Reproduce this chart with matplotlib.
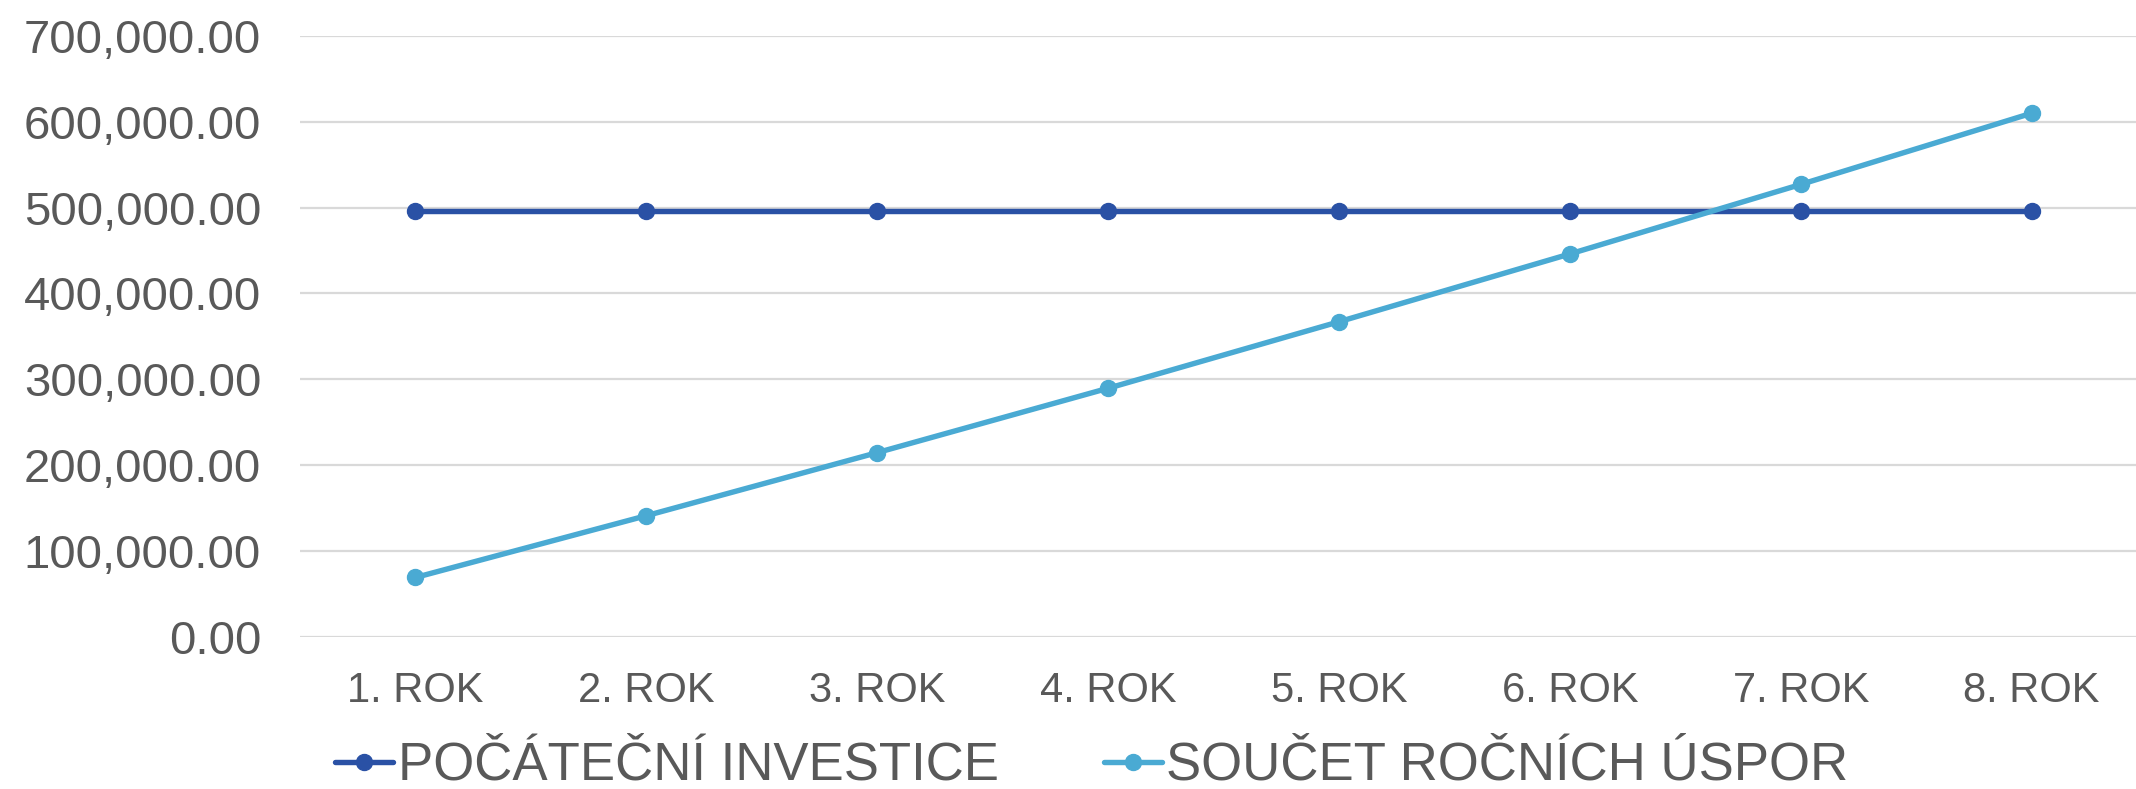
import matplotlib.pyplot as plt
from matplotlib.ticker import FuncFormatter

# data
roky = ['1. ROK', '2. ROK', '3. ROK', '4. ROK', '5. ROK', '6. ROK', '7. ROK', '8. ROK']
investice = [496000, 496000, 496000, 496000, 496000, 496000, 496000, 496000]
uspory = [69000, 141000, 214500, 289500, 367000, 446000, 527000, 610000]

nazvy = ['POČÁTEČNÍ INVESTICE', 'SOUČET ROČNÍCH ÚSPOR']
barvy = ['#2A51A5', '#4AAAD3']
seda = '#595959'

plt.rcParams['font.family'] = ['Liberation Sans', 'DejaVu Sans']

fig = plt.figure(figsize=(21.36, 7.89), dpi=100)
ax = fig.add_axes([300 / 2136, 1 - 636.7 / 789, (2147 - 300) / 2136, (636.7 - 36) / 789])

x = list(range(len(roky)))
for hodnoty, nazev, barva in zip([investice, uspory], nazvy, barvy):
    ax.plot(x, hodnoty, color=barva, linewidth=3.9, marker='o', markersize=11.5,
            label=nazev, solid_capstyle='round', clip_on=False)

ax.set_xlim(-0.5, 7.5)
ax.set_ylim(0, 700000)
ax.set_yticks(range(0, 700001, 100000))
ax.yaxis.set_major_formatter(FuncFormatter(lambda v, p: f'{v:,.2f}'))
ax.set_xticks(x)
ax.set_xticklabels(roky)

ax.grid(axis='y', color='#D9D9D9', linewidth=1.6)
ax.set_axisbelow(True)
for s in ax.spines.values():
    s.set_visible(False)
ax.tick_params(axis='y', length=0, pad=28, labelsize=34, labelcolor=seda)
ax.tick_params(axis='x', length=0, pad=25, labelsize=30, labelcolor=seda)

leg = fig.legend(loc='center', bbox_to_anchor=(1092 / 2136, 1 - 766 / 789), ncol=2,
                 frameon=False, fontsize=38, handlelength=1.1, handletextpad=0.08,
                 columnspacing=2.0, borderaxespad=0, borderpad=0)
for t in leg.get_texts():
    t.set_color(seda)

fig.savefig('out.png', dpi=100)
